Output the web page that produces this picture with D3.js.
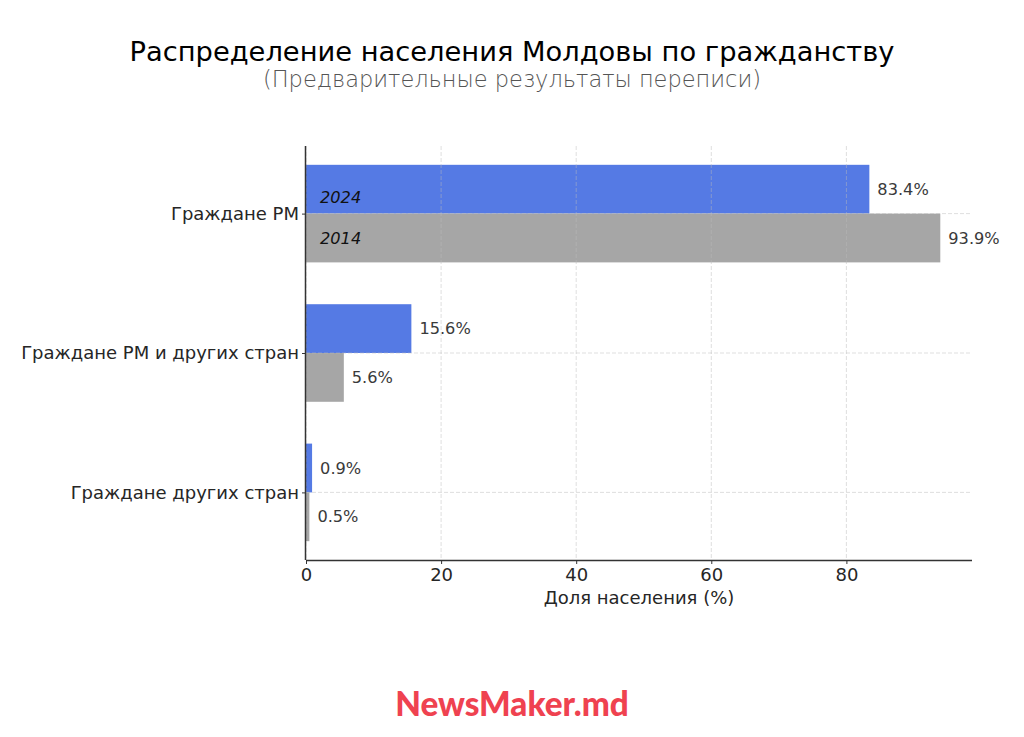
<!DOCTYPE html>
<html><head><meta charset="utf-8">
<script src="https://cdn.jsdelivr.net/npm/d3@7"></script>
<style>body{margin:0;background:#fff}svg{display:block}text{font-family:"DejaVu Sans",sans-serif}</style>
</head><body><svg id="c" width="1024" height="737"></svg>
<script>
const categories = ["Граждане РМ", "Граждане РМ и других стран", "Граждане других стран"];
const values2024 = [83.4, 15.6, 0.9];
const values2014 = [93.9, 5.6, 0.5];
const seriesNames = ["2024", "2014"];
const xTicks = [0, 20, 40, 60, 80];

(function(){
const svg = d3.select("#c");
const pL = 306, pR = 972, pT = 146, pB = 560;
const xmax = d3.max(values2014.concat(values2024)) * 1.05;
const x = d3.scaleLinear().domain([0, xmax]).range([pL, pR]);
const barH = 0.35;
const ymin = -0.35 - 0.135, ymaxv = categories.length - 1 + 0.35 + 0.135;
const y = d3.scaleLinear().domain([ymin, ymaxv]).range([pT, pB]);

// bars
const g = svg.append("g");
const series = [{name: seriesNames[0], vals: values2024, off: -barH/2, color: "#557ae4"},
                {name: seriesNames[1], vals: values2014, off: barH/2, color: "#a6a6a6"}];
series.forEach(s => {
  g.selectAll(null).data(s.vals).enter().append("rect")
    .attr("x", x(0))
    .attr("y", (d,i) => y(i + s.off - barH/2))
    .attr("width", d => x(d) - x(0))
    .attr("height", y(barH) - y(0))
    .attr("fill", s.color);
  g.selectAll(null).data(s.vals).enter().append("text")
    .attr("x", d => x(d) + 8)
    .attr("y", (d,i) => y(i + s.off))
    .attr("dy", "0.35em")
    .attr("font-size", 16.2).attr("fill", "#3a3a3a")
    .text(d => d.toFixed(1) + "%");
});

// grid
const grid = svg.append("g").attr("stroke", "#bbb").attr("stroke-opacity", 0.6).attr("stroke-dasharray", "4,2").attr("stroke-width", 0.8);
xTicks.forEach(t => grid.append("line").attr("x1", x(t)).attr("x2", x(t)).attr("y1", pT).attr("y2", pB));
categories.forEach((c,i) => grid.append("line").attr("x1", pL).attr("x2", pR).attr("y1", y(i)).attr("y2", y(i)));

// series labels inside first bars
svg.append("text").attr("x", x(0) + 14).attr("y", y(0 - barH/2) + 8).attr("dy","0.35em")
  .attr("font-size", 16.2).attr("font-style", "italic").attr("fill", "#111").text(seriesNames[0]);
svg.append("text").attr("x", x(0) + 14).attr("y", y(0 + barH/2)).attr("dy","0.35em")
  .attr("font-size", 16.2).attr("font-style", "italic").attr("fill", "#111").text(seriesNames[1]);

// axes
const xAxis = d3.axisBottom(x).tickValues(xTicks).tickSize(4).tickPadding(4);
const gx = svg.append("g").attr("transform", `translate(0,${pB})`).call(xAxis);
gx.select(".domain").attr("d", `M${pL},0.5H${pR}`).attr("stroke", "#333").attr("stroke-width", 1.5);
gx.selectAll(".tick line").attr("stroke", "#333");
gx.selectAll(".tick text").attr("font-size", 18).attr("fill", "#262626");

const yAxis = d3.axisLeft(y).tickValues(d3.range(categories.length)).tickFormat(i => categories[i]).tickSize(4).tickPadding(3);
const gy = svg.append("g").attr("transform", `translate(${pL},0)`).call(yAxis);
gy.select(".domain").attr("d", `M-0.5,${pT}V${pB}`).attr("stroke", "#333").attr("stroke-width", 1.5);
gy.selectAll(".tick line").attr("stroke", "#333");
gy.selectAll(".tick text").attr("font-size", 18).attr("fill", "#262626");

// labels
svg.append("text").attr("x", (pL+pR)/2).attr("y", 604).attr("text-anchor","middle")
  .attr("font-size", 18).attr("fill", "#262626").text("Доля населения (%)");
svg.append("text").attr("x", 512).attr("y", 61).attr("text-anchor","middle")
  .attr("font-size", 27.3).attr("fill", "#000").text("Распределение населения Молдовы по гражданству");
svg.append("text").attr("x", 512).attr("y", 87).attr("text-anchor","middle")
  .attr("font-size", 22.5).style("font-weight", "200").attr("fill", "#555").text("(Предварительные результаты переписи)");
svg.append("text").attr("x", 512).attr("y", 716).attr("text-anchor","middle")
  .style("font-family", "Lato, sans-serif").style("font-weight", "900").attr("font-size", 33.3).attr("fill", "#ef4250").text("NewsMaker.md");
})();
</script></body></html>
